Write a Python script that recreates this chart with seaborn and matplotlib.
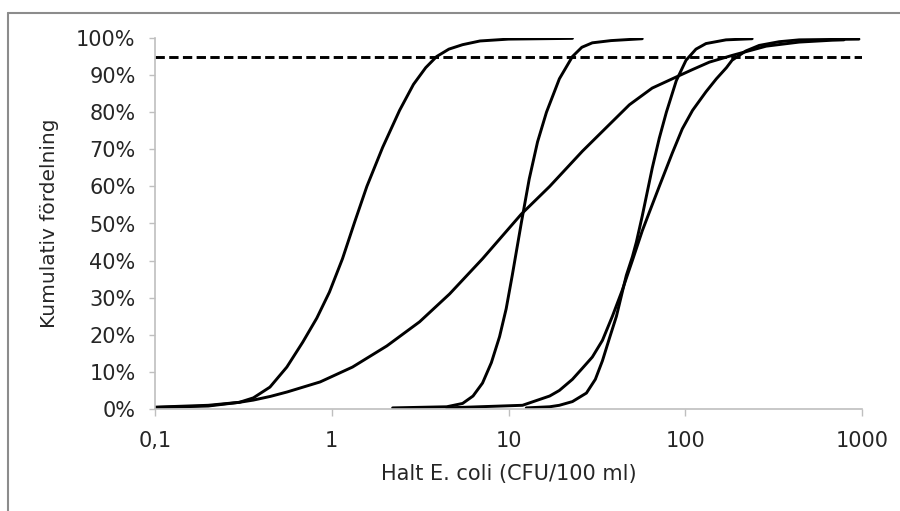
import matplotlib
matplotlib.use("Agg")
import matplotlib.pyplot as plt
from matplotlib.lines import Line2D
import seaborn as sns
import pandas as pd

# curves (x in CFU/100 ml, y in %)
kurva_a_x = [0.1, 0.2, 0.3, 0.36, 0.447, 0.557, 0.685, 0.823, 0.97, 1.15, 1.35, 1.58, 1.94, 2.42, 2.9, 3.4, 3.92, 4.6, 5.5, 6.9, 10, 23]
kurva_a_y = [0.4, 0.8, 1.8, 3.0, 5.9, 11.3, 18, 24.5, 31.5, 40.5, 50.5, 60, 70.5, 80.5, 87.5, 92, 95, 97, 98.2, 99.2, 99.7, 99.9]

kurva_b_x = [2.21, 4.47, 5.5, 6.3, 7.13, 8.0, 8.9, 9.7, 10.5, 11.8, 13.1, 14.6, 16.4, 19.4, 23, 26, 29.8, 38, 48.3, 57.1]
kurva_b_y = [0.3, 0.6, 1.5, 3.5, 7, 12.5, 19.5, 27, 36, 50, 62, 72, 80, 89, 95, 97.5, 98.7, 99.3, 99.6, 99.8]

kurva_c_x = [0.1, 0.2, 0.3, 0.36, 0.45, 0.56, 0.86, 1.31, 2.05, 3.14, 4.64, 7.13, 11.8, 17.1, 26.2, 36, 48.3, 65, 89, 110, 137, 184, 287, 441, 677, 791]
kurva_c_y = [0.5, 1.0, 1.8, 2.4, 3.4, 4.6, 7.3, 11.3, 17, 23.5, 31, 40.5, 52.5, 60, 69.5, 76, 82, 86.5, 89.5, 91.5, 93.5, 95.3, 97.8, 98.9, 99.4, 99.5]

kurva_d_x = [4.47, 12, 17.1, 19.4, 23, 26.2, 29.8, 34, 38.7, 44, 50.2, 57.1, 62.6, 71.3, 84.5, 96.2, 110, 131, 150, 171, 184, 220, 262, 340, 441, 961]
kurva_d_y = [0.3, 1.0, 3.5, 5, 8, 11, 14, 18.5, 25, 32, 40, 48, 53, 60, 69, 75.5, 80.5, 85.5, 89, 92, 94, 96.5, 98, 99, 99.5, 99.7]

kurva_e_x = [12.6, 17.1, 19.4, 23, 27.6, 31, 34, 37.2, 40.8, 46.4, 50.2, 52.9, 57.1, 65.1, 71.3, 78.2, 89, 101, 115, 131, 170, 239]
kurva_e_y = [0.3, 0.6, 1.0, 2.0, 4.3, 8, 13, 19, 25, 36, 41, 45, 52, 65, 73, 80, 88.5, 94, 97, 98.5, 99.5, 99.8]

grans_x = [0.1, 1000]
grans_y = [95, 95]

x_ticks = [0.1, 1, 10, 100, 1000]
x_labels = ["0,1", "1", "10", "100", "1000"]
y_ticks = list(range(0, 101, 10))

frames = []
for namn, xs, ys in [("a", kurva_a_x, kurva_a_y), ("b", kurva_b_x, kurva_b_y),
                     ("c", kurva_c_x, kurva_c_y), ("d", kurva_d_x, kurva_d_y),
                     ("e", kurva_e_x, kurva_e_y)]:
    frames.append(pd.DataFrame({"kurva": namn, "halt": xs, "andel": ys}))
df = pd.concat(frames, ignore_index=True)

sns.set_style("white")
plt.rcParams["font.family"] = ["DejaVu Sans"]

fig = plt.figure(figsize=(9, 5.11), dpi=100)
ax = fig.add_axes([155 / 900, 1 - 409 / 511, 707 / 900, 371 / 511])

sns.lineplot(data=df, x="halt", y="andel", units="kurva", estimator=None, sort=False,
             color="black", linewidth=2.1, ax=ax)
sns.lineplot(x=grans_x, y=grans_y, color="black", linewidth=2.1, linestyle=(0, (3.2, 1.5)), ax=ax)

ax.set_xscale("log")
ax.set_xlim(0.1, 1000)
ax.set_ylim(0, 100)
ax.set_xticks(x_ticks)
ax.set_xticklabels(x_labels)
ax.minorticks_off()
ax.set_yticks(y_ticks)
ax.set_yticklabels([f"{v}%" for v in y_ticks])

txt = "#262626"
ax.set_xlabel("Halt E. coli (CFU/100 ml)", fontsize=15, color=txt, labelpad=9)
ax.set_ylabel("Kumulativ fördelning", fontsize=14.5, color=txt, labelpad=12)
ax.tick_params(axis="y", length=4, width=1, color="#bfbfbf", labelsize=15, labelcolor=txt, pad=10, left=True)
ax.tick_params(axis="x", length=5, width=1, color="#bfbfbf", labelsize=15, labelcolor=txt, pad=11, bottom=True)

for s in ["top", "right"]:
    ax.spines[s].set_visible(False)
for s in ["left", "bottom"]:
    ax.spines[s].set_color("#bfbfbf")
    ax.spines[s].set_linewidth(1.2)

# grey frame of the original picture
fig.add_artist(Line2D([8 / 900, 1], [1 - 13 / 511, 1 - 13 / 511], transform=fig.transFigure, color="#8c8c8c", lw=1.5))
fig.add_artist(Line2D([8 / 900, 8 / 900], [0, 1 - 13 / 511], transform=fig.transFigure, color="#8c8c8c", lw=1.5))

fig.savefig("out.png", dpi=100)
